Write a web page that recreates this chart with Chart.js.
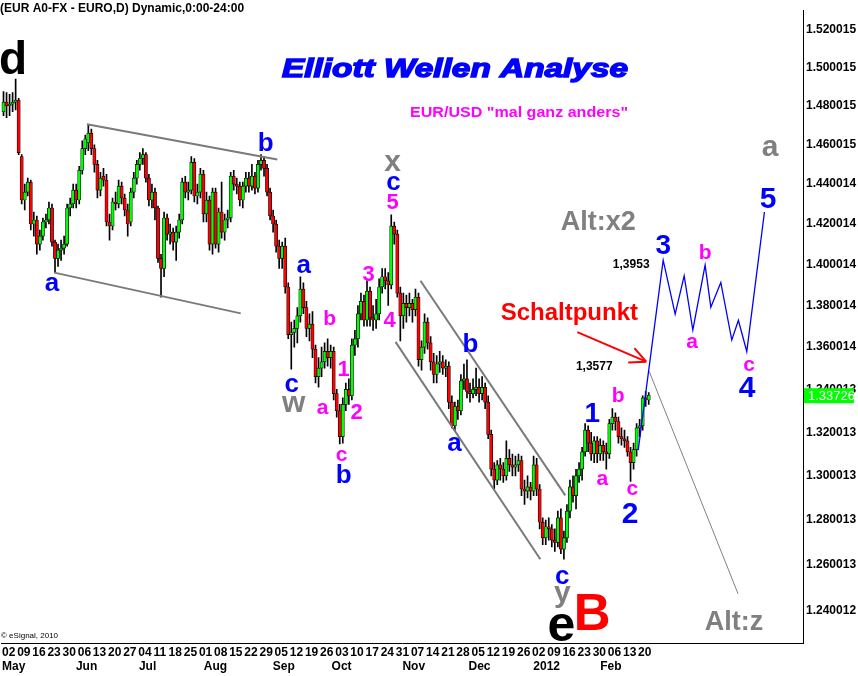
<!DOCTYPE html>
<html>
<head>
<meta charset="utf-8">
<script src="https://cdn.jsdelivr.net/npm/chart.js@4.4.1/dist/chart.umd.min.js"></script>
<style>
  html, body { margin: 0; padding: 0; background: #fff; }
  canvas { display: block; }
</style>
</head>
<body>
<canvas id="chart" width="858" height="676"></canvas>
<script>
// daily candles EUR/USD, May 2011 - Feb 2012
const opens = [
  1.4770,1.4820,1.4800,1.4810,1.4820,1.4830,1.4540,1.4320,1.4360,1.4410,
  1.4200,1.4220,1.4100,1.4140,1.4210,1.4220,1.4280,1.4110,1.4030,1.4070,
  1.4080,1.4100,1.4280,1.4300,1.4370,1.4320,1.4470,1.4580,1.4610,1.4660,
  1.4580,1.4500,1.4370,1.4440,1.4420,1.4210,1.4190,1.4310,1.4300,1.4390,
  1.4330,1.4270,1.4210,1.4360,1.4430,1.4500,1.4530,1.4550,1.4430,1.4320,
  1.4360,1.4280,1.4030,1.3980,1.4230,1.4150,1.4160,1.4110,1.4160,1.4220,
  1.4410,1.4360,1.4370,1.4510,1.4340,1.4360,1.4450,1.4250,1.4320,1.4100,
  1.4360,1.4100,1.4260,1.4160,1.4220,1.4230,1.4440,1.4400,1.4390,1.4320,
  1.4390,1.4430,1.4390,1.4440,1.4380,1.4500,1.4520,1.4480,1.4360,1.4240,
  1.4200,1.4090,1.4030,1.4090,1.3890,1.3660,1.3670,1.3690,1.3750,1.3880,
  1.3790,1.3690,1.3710,1.3590,1.3460,1.3500,1.3530,1.3580,1.3550,1.3580,
  1.3380,1.3300,1.3180,1.3330,1.3400,1.3370,1.3610,1.3640,1.3760,1.3820,
  1.3730,1.3870,1.3740,1.3730,1.3760,1.3890,1.3940,1.3920,1.3900,1.4190,
  1.4150,1.3860,1.3750,1.3810,1.3790,1.3810,1.3780,1.3840,1.3540,1.3600,
  1.3720,1.3620,1.3530,1.3470,1.3520,1.3530,1.3500,1.3510,1.3340,1.3230,
  1.3320,1.3300,1.3440,1.3450,1.3390,1.3380,1.3400,1.3410,1.3380,1.3410,
  1.3340,1.3190,1.3030,1.2980,1.3050,1.3030,1.3000,1.3080,1.3050,1.3040,
  1.3050,1.3070,1.2940,1.2930,1.2950,1.2930,1.3050,1.2940,1.2790,1.2720,
  1.2770,1.2760,1.2710,1.2700,1.2810,1.2670,1.2720,1.2840,1.2950,1.2910,
  1.3000,1.3030,1.3110,1.3210,1.3150,1.3100,1.3160,1.3100,1.3140,1.3110,
  1.3100,1.3240,1.3270,1.3250,1.3180,1.3170,1.3160,1.3110,1.3060,1.3120,
  1.3220,1.3230,1.3360,1.3350
];
const highs = [
  1.4875,1.4870,1.4860,1.4870,1.4940,1.4840,1.4550,1.4400,1.4430,1.4420,
  1.4260,1.4240,1.4170,1.4230,1.4250,1.4310,1.4300,1.4120,1.4100,1.4120,
  1.4140,1.4300,1.4330,1.4400,1.4400,1.4490,1.4620,1.4650,1.4700,1.4680,
  1.4600,1.4520,1.4460,1.4480,1.4450,1.4250,1.4330,1.4360,1.4420,1.4410,
  1.4350,1.4300,1.4380,1.4460,1.4520,1.4560,1.4580,1.4560,1.4450,1.4400,
  1.4380,1.4290,1.4050,1.4260,1.4250,1.4200,1.4180,1.4190,1.4250,1.4430,
  1.4440,1.4410,1.4540,1.4530,1.4400,1.4480,1.4470,1.4360,1.4340,1.4380,
  1.4380,1.4280,1.4410,1.4250,1.4270,1.4460,1.4470,1.4430,1.4410,1.4410,
  1.4460,1.4460,1.4500,1.4460,1.4520,1.4550,1.4540,1.4500,1.4380,1.4270,
  1.4220,1.4120,1.4110,1.4130,1.3910,1.3720,1.3730,1.3790,1.3940,1.3910,
  1.3820,1.3760,1.3770,1.3610,1.3550,1.3600,1.3620,1.3640,1.3610,1.3600,
  1.3400,1.3330,1.3360,1.3430,1.3450,1.3640,1.3680,1.3800,1.3860,1.3850,
  1.3920,1.3890,1.3800,1.3830,1.3930,1.3980,1.3980,1.3960,1.4246,1.4210,
  1.4170,1.3890,1.3860,1.3850,1.3860,1.3830,1.3880,1.3860,1.3630,1.3760,
  1.3740,1.3650,1.3570,1.3560,1.3580,1.3560,1.3540,1.3530,1.3370,1.3340,
  1.3350,1.3470,1.3520,1.3540,1.3430,1.3450,1.3500,1.3450,1.3460,1.3430,
  1.3370,1.3210,1.3060,1.3070,1.3080,1.3060,1.3160,1.3120,1.3100,1.3090,
  1.3100,1.3090,1.2980,1.3000,1.2970,1.3090,1.3080,1.2960,1.2810,1.2800,
  1.2810,1.2780,1.2760,1.2840,1.2850,1.2750,1.2870,1.2980,1.3000,1.3030,
  1.3060,1.3130,1.3240,1.3230,1.3200,1.3180,1.3180,1.3170,1.3160,1.3150,
  1.3260,1.3310,1.3290,1.3270,1.3220,1.3210,1.3180,1.3130,1.3150,1.3240,
  1.3260,1.3370,1.3390,1.3385
];
const lows = [
  1.4750,1.4740,1.4750,1.4770,1.4780,1.4550,1.4300,1.4270,1.4340,1.4170,
  1.4140,1.4050,1.4070,1.4120,1.4180,1.4200,1.4090,1.3960,1.3990,1.4020,
  1.4050,1.4090,1.4240,1.4280,1.4280,1.4300,1.4450,1.4550,1.4570,1.4550,
  1.4460,1.4330,1.4340,1.4390,1.4190,1.4120,1.4170,1.4270,1.4280,1.4300,
  1.4240,1.4140,1.4190,1.4330,1.4400,1.4470,1.4500,1.4410,1.4290,1.4280,
  1.4220,1.4010,1.3840,1.3940,1.4120,1.4100,1.4070,1.4020,1.4130,1.4200,
  1.4330,1.4320,1.4350,1.4310,1.4300,1.4330,1.4210,1.4210,1.4070,1.4050,
  1.4080,1.4060,1.4130,1.4120,1.4180,1.4210,1.4370,1.4350,1.4290,1.4280,
  1.4360,1.4360,1.4370,1.4350,1.4360,1.4470,1.4440,1.4340,1.4220,1.4160,
  1.4060,1.3980,1.3980,1.3860,1.3640,1.3495,1.3600,1.3620,1.3720,1.3760,
  1.3650,1.3630,1.3550,1.3430,1.3410,1.3460,1.3500,1.3510,1.3500,1.3350,
  1.3270,1.3146,1.3150,1.3300,1.3330,1.3350,1.3560,1.3600,1.3730,1.3700,
  1.3700,1.3700,1.3680,1.3690,1.3730,1.3860,1.3880,1.3800,1.3880,1.4100,
  1.3840,1.3630,1.3690,1.3720,1.3750,1.3720,1.3750,1.3510,1.3490,1.3570,
  1.3590,1.3490,1.3430,1.3430,1.3480,1.3470,1.3460,1.3310,1.3220,1.3205,
  1.3260,1.3280,1.3400,1.3360,1.3340,1.3360,1.3370,1.3340,1.3350,1.3310,
  1.3170,1.3000,1.2940,1.2960,1.2980,1.2970,1.2980,1.3020,1.3000,1.3000,
  1.3020,1.2910,1.2870,1.2900,1.2890,1.2910,1.2910,1.2760,1.2690,1.2690,
  1.2710,1.2680,1.2660,1.2680,1.2650,1.2625,1.2700,1.2810,1.2880,1.2850,
  1.2970,1.2980,1.3090,1.3110,1.3070,1.3060,1.3060,1.3070,1.3070,1.3030,
  1.3080,1.3210,1.3210,1.3150,1.3140,1.3130,1.3090,1.2975,1.3030,1.3090,
  1.3180,1.3210,1.3320,1.3330
];
const closes = [
  1.4820,1.4800,1.4810,1.4820,1.4830,1.4560,1.4320,1.4360,1.4410,1.4200,
  1.4220,1.4100,1.4140,1.4210,1.4220,1.4280,1.4110,1.4030,1.4070,1.4080,
  1.4100,1.4280,1.4300,1.4370,1.4320,1.4470,1.4580,1.4630,1.4660,1.4580,
  1.4500,1.4370,1.4430,1.4420,1.4210,1.4190,1.4310,1.4300,1.4390,1.4330,
  1.4270,1.4200,1.4360,1.4430,1.4500,1.4530,1.4550,1.4430,1.4320,1.4360,
  1.4280,1.4030,1.3980,1.4230,1.4150,1.4160,1.4110,1.4160,1.4220,1.4410,
  1.4360,1.4370,1.4510,1.4340,1.4360,1.4450,1.4250,1.4320,1.4100,1.4360,
  1.4100,1.4260,1.4160,1.4220,1.4230,1.4440,1.4400,1.4390,1.4320,1.4390,
  1.4430,1.4390,1.4440,1.4380,1.4500,1.4520,1.4480,1.4360,1.4240,1.4200,
  1.4090,1.4030,1.4090,1.3890,1.3660,1.3670,1.3690,1.3750,1.3880,1.3790,
  1.3690,1.3710,1.3590,1.3460,1.3500,1.3530,1.3580,1.3550,1.3580,1.3380,
  1.3300,1.3180,1.3330,1.3400,1.3370,1.3610,1.3640,1.3760,1.3820,1.3730,
  1.3870,1.3740,1.3730,1.3760,1.3890,1.3940,1.3920,1.3900,1.4190,1.4150,
  1.3860,1.3750,1.3810,1.3790,1.3810,1.3780,1.3840,1.3540,1.3600,1.3720,
  1.3620,1.3530,1.3470,1.3520,1.3530,1.3500,1.3510,1.3340,1.3230,1.3320,
  1.3300,1.3440,1.3450,1.3390,1.3380,1.3400,1.3410,1.3380,1.3410,1.3340,
  1.3190,1.3030,1.2980,1.3050,1.3030,1.3000,1.3080,1.3050,1.3040,1.3050,
  1.3070,1.2940,1.2930,1.2950,1.2930,1.3050,1.2940,1.2790,1.2720,1.2770,
  1.2760,1.2710,1.2700,1.2810,1.2670,1.2720,1.2840,1.2950,1.2910,1.3000,
  1.3030,1.3110,1.3210,1.3150,1.3100,1.3160,1.3100,1.3140,1.3110,1.3100,
  1.3240,1.3270,1.3250,1.3180,1.3170,1.3160,1.3110,1.3060,1.3120,1.3220,
  1.3230,1.3360,1.3350,1.33726
];

// axis labels
const dayLabels = ["02","09","16","23","30","06","13","20","27","04","11","18","25","01","08",
  "15","22","29","05","12","19","26","03","10","17","24","31","07","14","21","28","05","12",
  "19","26","02","09","16","23","30","06","13","20"];
const monthLabels = ["May","Jun","Jul","Aug","Sep","Oct","Nov","Dec","2012","Feb"];
const monthAt = [-0.5, 23.9, 44.7, 66.1, 88.9, 108.3, 131.7, 153.5, 174.9, 197];
const priceTicks = [1.240012,1.260013,1.280013,1.300013,1.320013,1.340013,1.360014,1.380014,
  1.400014,1.420014,1.440014,1.460015,1.480015,1.500015,1.520015];

// drawn lines: [candle index, price]
const channelTop1 = [[27.53, 1.4706], [90.40, 1.4525]];
const channelBot1 = [[16.75, 1.3960], [78.31, 1.3762]];
const channelTop2 = [[137.65, 1.3920], [185.46, 1.2911]];
const channelBot2 = [[129.41, 1.3625], [177.22, 1.2625]];
const forecastX = [209.53, 217.77, 221.73, 224.70, 227.56, 231.62, 233.50, 236.80, 240.42, 242.60, 245.37, 251.2];
const forecastY = [1.3118, 1.4021, 1.3758, 1.3944, 1.3682, 1.3997, 1.3792, 1.3912, 1.3634, 1.3729, 1.3579, 1.4260];
const altZLine = [[213.15, 1.3485], [242.5, 1.2473]];
const arrowLine = [[189.42, 1.3672], [212.17, 1.3531]];

const FONT = "'Liberation Sans', Arial, sans-serif";
const BLUE = "#0000ff", MAG = "#ff00ff", GRAY = "#808080", RED = "#ff0000", BLK = "#000000";

// wave labels: text, candle index, price at baseline, colour, size
const notes = [
  ["a", 15.99, 1.38717, BLUE, 26], ["b", 86.55, 1.45685, BLUE, 26],
  ["a", 99.08, 1.39581, BLUE, 26], ["c", 95.12, 1.33874, BLUE, 26],
  ["b", 112.26, 1.29691, BLUE, 26], ["c", 128.75, 1.43687, BLUE, 26],
  ["b", 154.14, 1.35781, BLUE, 26], ["a", 148.86, 1.31131, BLUE, 26],
  ["c", 184.47, 1.25162, BLUE, 26],
  ["1", 194.36, 1.32496, BLUE, 28], ["2", 206.89, 1.27868, BLUE, 30],
  ["3", 217.77, 1.40500, BLUE, 28], ["4", 245.47, 1.33643, BLUE, 30],
  ["5", 252.39, 1.42797, BLUE, 30],
  ["w", 95.78, 1.32953, GRAY, 30], ["x", 128.42, 1.44683, GRAY, 30],
  ["y", 184.47, 1.24389, GRAY, 30], ["a", 253.05, 1.45434, GRAY, 30],
  ["Alt:x2", 196.34, 1.41718, GRAY, 27], ["Alt:z", 241.18, 1.23150, GRAY, 27],
  ["d", 3.13, 1.49656, BLK, 46], ["e", 184.14, 1.22684, BLK, 50],
  ["1,3953", 207.22, 1.39822, BLK, 12], ["1,3577", 195.02, 1.34894, BLK, 12],
  ["B", 194.36, 1.23150, RED, 51], ["Schaltpunkt", 186.78, 1.37290, RED, 24],
  ["5", 128.42, 1.42748, MAG, 22], ["3", 120.51, 1.39196, MAG, 22],
  ["4", 127.43, 1.36959, MAG, 22], ["b", 107.65, 1.37054, MAG, 21],
  ["1", 112.26, 1.34615, MAG, 22], ["2", 116.55, 1.32633, MAG, 22],
  ["a", 105.34, 1.32862, MAG, 21], ["c", 111.61, 1.30679, MAG, 21],
  ["a", 197.66, 1.29602, MAG, 21], ["b", 202.93, 1.33413, MAG, 21],
  ["c", 207.55, 1.29111, MAG, 21], ["b", 231.62, 1.40258, MAG, 21],
  ["a", 227.34, 1.35969, MAG, 21], ["c", 246.13, 1.34848, MAG, 21]
];

function put(ctx, text, px, py, font, color, align, width, heavy) {
  ctx.save();
  ctx.font = font;
  ctx.fillStyle = color;
  ctx.textAlign = align || "center";
  ctx.textBaseline = "alphabetic";
  ctx.translate(px, py);
  if (width) {
    const w = ctx.measureText(text).width;
    ctx.scale(width / w, 1);
  }
  ctx.fillText(text, 0, 0);
  if (heavy) {
    ctx.strokeStyle = color;
    ctx.lineWidth = heavy;
    ctx.strokeText(text, 0, 0);
  }
  ctx.restore();
}

const overlay = {
  id: "overlay",
  afterDraw(chart) {
    const { ctx, scales: { x, y } } = chart;

    // arrow head
    const x1 = x.getPixelForValue(arrowLine[0][0]), y1 = y.getPixelForValue(arrowLine[0][1]);
    const x2 = x.getPixelForValue(arrowLine[1][0]), y2 = y.getPixelForValue(arrowLine[1][1]);
    const ang = Math.atan2(y2 - y1, x2 - x1);
    ctx.save();
    ctx.strokeStyle = RED;
    ctx.lineWidth = 2;
    ctx.beginPath();
    [-0.45, 0.45].forEach(d => {
      ctx.moveTo(x2, y2);
      ctx.lineTo(x2 - 18 * Math.cos(ang + d), y2 - 18 * Math.sin(ang + d));
    });
    ctx.stroke();
    ctx.restore();

    notes.forEach(n => {
      put(ctx, n[0], x.getPixelForValue(n[1]), y.getPixelForValue(n[2]),
        "bold " + n[4] + "px " + FONT, n[3]);
    });

    put(ctx, "(EUR A0-FX - EURO,D) Dynamic,0:00-24:00", 0, 12, "bold 12px " + FONT, BLK, "left");
    put(ctx, "Elliott Wellen Analyse", 455, 77, "bold italic 25px " + FONT, BLUE, "center", 346, 1.4);
    put(ctx, 'EUR/USD "mal ganz anders"', 519, 117, "bold 15px " + FONT, MAG, "center", 218);
    put(ctx, "\u00a9 eSignal, 2010", 1, 638, "8px " + FONT, BLK, "left");

    // last price box on the axis
    const last = closes[closes.length - 1];
    const yb = y.getPixelForValue(last);
    ctx.save();
    ctx.fillStyle = "#00ff00";
    ctx.fillRect(x.right + 1, yb - 7, 50, 15);
    ctx.restore();
    put(ctx, last.toFixed(5), x.right + 5, yb + 5, "13px " + FONT, "#ffffff", "left");
  }
};

function lineSet(pts, color, width) {
  return {
    type: "line",
    data: pts.map(p => ({ x: p[0], y: p[1] })),
    borderColor: color,
    borderWidth: width,
    pointRadius: 0,
    fill: false,
    tension: 0,
    order: 1
  };
}

const xMin = -0.824, xMax = 263.93;

new Chart(document.getElementById("chart"), {
  type: "bar",
  data: {
    datasets: [
      {
        label: "wicks",
        data: lows.map((l, i) => ({ x: i, y: [l, highs[i]] })),
        backgroundColor: "#000",
        barThickness: 1,
        grouped: false,
        order: 3
      },
      {
        label: "bodies",
        data: opens.map((o, i) => ({ x: i, y: [o, closes[i]] })),
        backgroundColor: opens.map((o, i) => (closes[i] >= o ? "#00ff00" : "#ff0000")),
        borderColor: "#000",
        borderWidth: 0.7,
        borderSkipped: false,
        barThickness: 3.2,
        grouped: false,
        order: 2
      },
      lineSet(channelTop1, "#7a7a7a", 2),
      lineSet(channelBot1, "#7a7a7a", 2),
      lineSet(channelTop2, "#7a7a7a", 2),
      lineSet(channelBot2, "#7a7a7a", 2),
      lineSet(forecastX.map((v, k) => [v, forecastY[k]]), BLUE, 1.3),
      lineSet(altZLine, GRAY, 1),
      lineSet(arrowLine, RED, 2)
    ]
  },
  options: {
    responsive: false,
    animation: false,
    events: [],
    layout: { padding: 0, autoPadding: false },
    plugins: { legend: { display: false }, tooltip: { enabled: false } },
    scales: {
      x: {
        type: "linear",
        position: "bottom",
        min: xMin,
        max: xMax,
        offset: false,
        weight: 1,
        grid: { display: false, drawTicks: false },
        border: { display: true, color: "#000", width: 1 },
        afterBuildTicks: s => { s.ticks = dayLabels.map((_, w) => ({ value: 5 * w - 0.5 })); },
        afterFit: s => { s.height = 17; },
        ticks: {
          autoSkip: false, maxRotation: 0, minRotation: 0, align: "start", padding: 2,
          color: "#000", font: { family: FONT, size: 12, weight: "bold" },
          callback: (v, i) => dayLabels[i]
        }
      },
      x2: {
        type: "linear",
        position: "bottom",
        min: xMin,
        max: xMax,
        offset: false,
        weight: 2,
        grid: { display: false, drawTicks: false },
        border: { display: false },
        afterBuildTicks: s => { s.ticks = monthAt.map(v => ({ value: v })); },
        afterFit: s => { s.height = 16; },
        ticks: {
          autoSkip: false, maxRotation: 0, minRotation: 0, align: "start", padding: 1,
          color: "#000", font: { family: FONT, size: 12, weight: "bold", lineHeight: 1 },
          callback: (v, i) => monthLabels[i]
        }
      },
      y: {
        type: "logarithmic",
        position: "right",
        min: 1.22598,
        max: 1.53055,
        grid: { display: false, drawTicks: false },
        border: { display: true, color: "#000", width: 1 },
        afterBuildTicks: s => { s.ticks = priceTicks.map(v => ({ value: v })); },
        afterFit: s => { s.width = 55; },
        ticks: {
          autoSkip: false, padding: 3, color: "#000",
          font: { family: FONT, size: 12, weight: "bold" },
          callback: (v, i) => priceTicks[i].toFixed(6)
        }
      }
    }
  },
  plugins: [overlay]
});
</script>
</body>
</html>
